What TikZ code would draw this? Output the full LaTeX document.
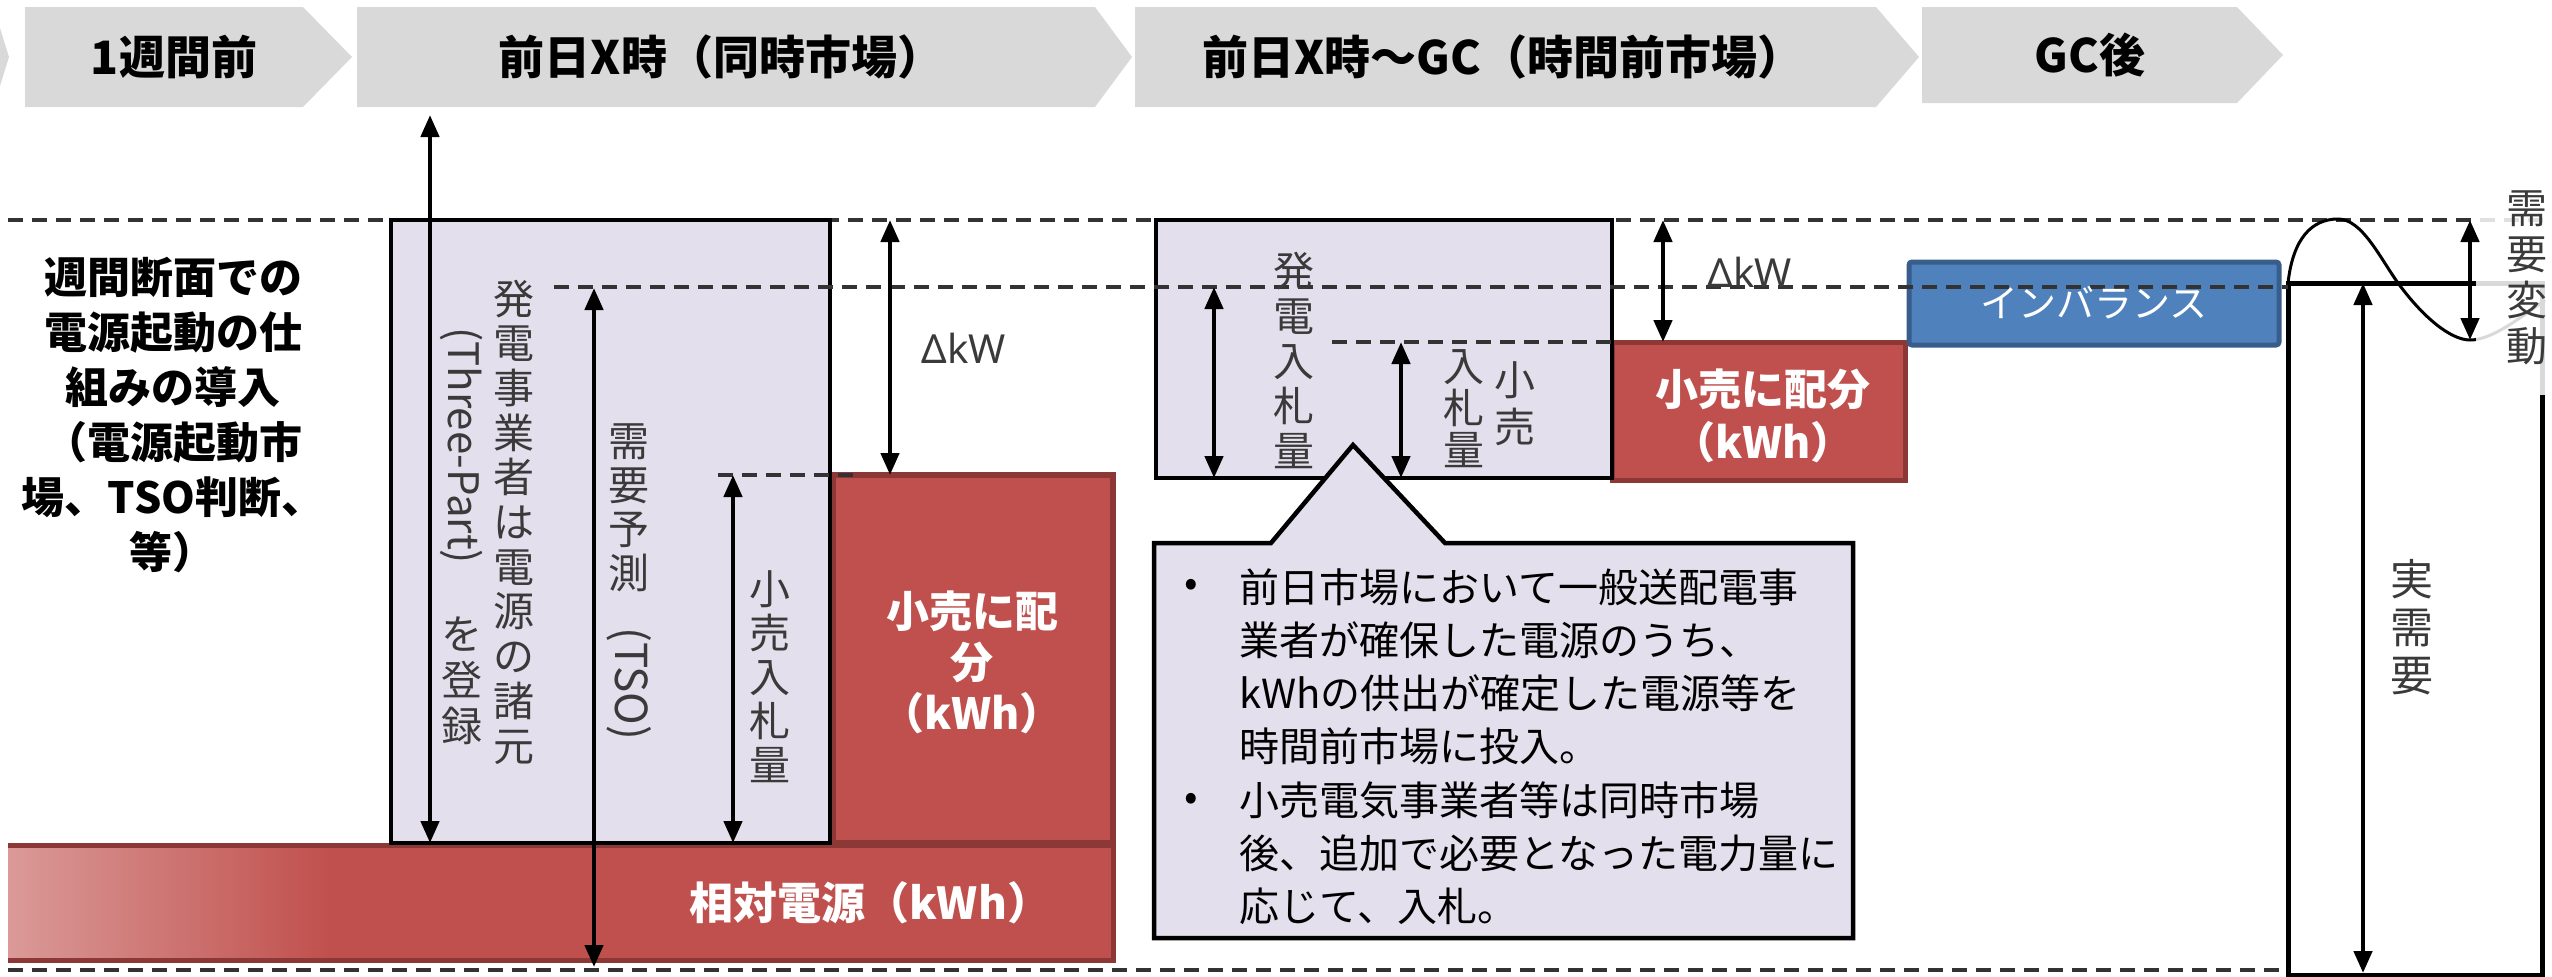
\documentclass[tikz,border=0pt]{standalone}
\usepackage{fontspec}
\setmainfont{Noto Sans CJK JP}
\newfontfamily\latf{Noto Sans}
\usetikzlibrary{arrows.meta}
\definecolor{chev}{HTML}{D9D9D9}
\definecolor{lav}{HTML}{E4DFEC}
\definecolor{rd}{HTML}{C0504D}
\definecolor{rdb}{HTML}{8C3836}
\definecolor{rdl}{HTML}{DA9A98}
\definecolor{bl}{HTML}{4F81BD}
\definecolor{blb}{HTML}{385D8A}
\definecolor{dsh}{HTML}{333333}
\definecolor{txt}{HTML}{3A3A3A}
\newcommand\fs[2]{\fontsize{#1}{#2}\selectfont}
\begin{document}
\begin{tikzpicture}[x=1pt,y=-1pt,
  chevron/.style={fill=chev,draw=none},
  chevtext/.style={font=\bfseries\fs{46}{50},text=black,inner sep=0pt},
  lvl/.style={draw=dsh,line width=3.5pt,dash pattern=on 15pt off 9pt},
  dim/.style={line width=4.5pt,<->,>={Triangle[length=22pt,width=18pt]}},
  lavbox/.style={fill=lav,draw=black,line width=4.5pt},
  redbox/.style={fill=rd,draw=rdb,line width=6pt},
  vt/.style={align=center,inner sep=0pt,text=txt},
  rotlat/.style={rotate=-90,anchor=west,inner sep=0pt,text=txt,font=\fs{42}{46}},
  wbold/.style={font=\bfseries\fs{43}{51},text=white,align=center,inner sep=0pt},
]
\useasboundingbox (0,0) rectangle (2552,977);
% ---- timeline chevrons
\fill[chevron] (0,28) -- (9,57) -- (0,86) -- cycle;
\fill[chevron] (25,7) -- (303,7) -- (352,57) -- (303,107) -- (25,107) -- cycle;
\fill[chevron] (357,7) -- (1095,7) -- (1132,57) -- (1095,107) -- (357,107) -- cycle;
\fill[chevron] (1135,7) -- (1876,7) -- (1919,57) -- (1876,107) -- (1135,107) -- cycle;
\fill[chevron] (1922,7) -- (2237,7) -- (2283,55) -- (2237,103) -- (1922,103) -- cycle;
\node[chevtext] (c1) at (174,57) {1週間前};
\node[chevtext] (c2) at (721,57) {前日X時（同時市場）};
\node[chevtext] (c3) at (1503,57) {前日X時～GC（時間前市場）};
\node[chevtext] (c4) at (2090,55) {GC後};
% ---- left explanation
\node[font=\bfseries\fs{43}{55},align=center,inner sep=0pt] (intro) at (173,415)
  {週間断面での\\電源起動の仕\\組みの導入\\（電源起動市\\場、TSO判断、\\等）};
% ---- top level line
\draw[lvl] (8,220) -- (2552,220);
% ---- red bars
\fill[rd] (8,843) rectangle (1115,962);
\shade[left color=rdl,right color=rd] (8,848) rectangle (330,958);
\draw[rdb,line width=5pt] (8,845) -- (1113,845) -- (1113,960) -- (8,960);
\draw[redbox] (833,475) rectangle (1113,843);
\draw[redbox,line width=5pt] (1612,342) rectangle (1905,480);
\draw[fill=bl,draw=blb,line width=5pt,rounded corners=3pt] (1909,262) rectangle (2279,345);
% ---- lavender boxes
\draw[lavbox] (391,220) rectangle (830,843);
\draw[lavbox] (1156,220) rectangle (1612,478);
\draw[lavbox,line join=miter] (1154,543) -- (1271,543) -- (1353,445) -- (1445,543)
  -- (1853,543) -- (1853,938) -- (1154,938) -- cycle;
% ---- actual demand box and fluctuation curve
\draw[black,line width=5pt] (2288,283) rectangle (2542,975);
\draw[black,line width=3pt] (2288,283) .. controls (2293,238) and (2312,219) .. (2338,219)
  .. controls (2362,219) and (2380,258) .. (2398,283)
  .. controls (2422,316) and (2450,340) .. (2470,340)
  .. controls (2490,340) and (2515,322) .. (2545,300);
% ---- other level lines
\draw[lvl] (554,287) -- (2288,287);
\draw[lvl] (718,475) -- (858,475);
\draw[lvl] (1332,342) -- (1612,342);
\draw[lvl] (8,970) -- (2288,970);
% ---- dimension arrows
\coordinate (a1t) at (430,115); \coordinate (a1b) at (430,843);
\coordinate (a2t) at (594,288); \coordinate (a2b) at (594,967);
\coordinate (a3t) at (733,475); \coordinate (a3b) at (733,843);
\coordinate (a4t) at (890,220); \coordinate (a4b) at (890,475);
\coordinate (a5t) at (1214,287); \coordinate (a5b) at (1214,478);
\coordinate (a6t) at (1401,342); \coordinate (a6b) at (1401,478);
\coordinate (a7t) at (1663,220); \coordinate (a7b) at (1663,342);
\coordinate (a8t) at (2363,283); \coordinate (a8b) at (2363,973);
\draw[dim] (a1t) -- (a1b);
\draw[dim] (a2t) -- (a2b);
\draw[dim] (a3t) -- (a3b);
\draw[dim] (a4t) -- (a4b);
\draw[dim] (a5t) -- (a5b);
\draw[dim] (a6t) -- (a6b);
\draw[dim] (a7t) -- (a7b);
\draw[dim] (a8t) -- (a8b);
% ---- texts in box A
\node[vt,font=\fs{41}{44.7}] (v1) at (514,522) {発\\電\\事\\業\\者\\は\\電\\源\\の\\諸\\元};
\node[rotlat] (v2a) at (462,327) {(Three-Part)};
\node[vt,font=\fs{41}{46}] (v2b) at (462,681) {を\\登\\録};
\node[vt,font=\fs{41}{44}] (v3a) at (629,508) {需\\要\\予\\測};
\node[rotlat,font=\fs{44}{48}] (v3b) at (629,627) {(TSO)};
\node[vt,font=\fs{41}{44}] (v4) at (770,677) {小\\売\\入\\札\\量};
\node[font=\latf\fs{40}{44},text=txt,inner sep=0pt] (dkw1) at (964,348) {ΔkW};
\node[wbold] (tB) at (972,662) {小売に配\\分\\（kWh）};
\node[wbold,font=\bfseries\fs{44}{50}] (tbar) at (870,903) {相対電源（kWh）};
% ---- texts in box 2
\node[vt,font=\fs{41}{45}] (v5) at (1294,360) {発\\電\\入\\札\\量};
\node[vt,font=\fs{41}{42}] (v6) at (1464,409) {入\\札\\量};
\node[vt,font=\fs{41}{47}] (v7) at (1515,404) {小\\売};
\node[font=\latf\fs{40}{44},text=txt,inner sep=0pt] (dkw2) at (1750,272) {ΔkW};
\node[wbold,font=\bfseries\fs{43}{53}] (tC) at (1763,416) {小売に配分\\（kWh）};
\node[text=white,font=\fs{38}{42},inner sep=0pt] (tIm) at (2094,303) {インバランス};
% ---- callout text
\node[text=black,font=\fs{40}{44},inner sep=0pt] (bu1) at (1191,588) {•};
\node[text=black,font=\fs{40}{44},inner sep=0pt] (bu2) at (1191,802) {•};
\node[anchor=north west,align=left,inner sep=0pt,text=black,font=\fs{40}{53.3}] (note) at (1239,568)
  {前日市場において一般送配電事\\業者が確保した電源のうち、\\kWhの供出が確定した電源等を\\時間前市場に投入。\\小売電気事業者等は同時市場\\後、追加で必要となった電力量に\\応じて、入札。};
% ---- actual demand
\node[vt,font=\fs{43}{48}] (v8) at (2412,627) {実\\需\\要};
\fill[white,opacity=0.85] (2476,165) rectangle (2552,395);
\coordinate (a9t) at (2470,220); \coordinate (a9b) at (2470,340);
\draw[dim] (a9t) -- (a9b);
\node[vt,font=\fs{41}{46}] (v9) at (2527,278) {需\\要\\変\\動};
\end{tikzpicture}
\end{document}
